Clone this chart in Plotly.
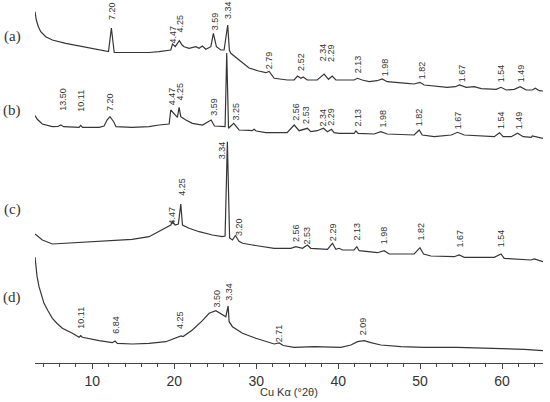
import plotly.graph_objects as go

# ---------------- data (2theta in degrees, intensity in arbitrary stacked units) -------------
X_A = [3.00, 3.16, 3.41, 3.70, 4.31, 5.12, 6.75, 8.78, 10.82, 11.97, 12.32, 12.67, 14.48, 16.92,
       18.14, 19.57, 19.78, 20.12, 20.62, 20.95, 21.2, 21.81, 22.63, 23.03, 23.43, 23.85, 24.46,
       24.77, 25.14, 25.68, 26.08, 26.52, 26.72, 26.9, 27.91, 29.13, 30.3, 31.17, 31.58, 31.9,
       32.19, 33.8, 34.63, 35.03, 35.45, 35.73, 36.22, 37.44, 38.29, 38.82, 39.27, 39.72, 41.95,
       42.36, 42.93, 43.78, 44.76, 45.37, 45.98, 48.42, 49.28, 49.98, 50.5, 53.31, 54.3, 54.81,
       55.63, 56.6, 57.46, 59.29, 59.87, 60.51, 61.49, 62.22, 62.96, 63.69, 64.06, 64.55, 65.0]
Y_A = [351.3, 343, 336.3, 331.3, 326.3, 323, 319.7, 316.3, 313, 311.5, 335, 310.5, 310.5, 310.5,
       311.3, 313, 319, 316.5, 322.3, 318, 316.3, 314.7, 316.3, 314.7, 317, 313.7, 316.3,
       329.7, 316.3, 313, 313, 338, 313, 309.7, 303, 295, 292, 290.3, 291.5, 287.5,
       284.7, 283, 283, 287, 284.7, 286, 283, 283, 289, 283.7, 287, 283, 283,
       284.7, 283, 281.3, 282.3, 284, 281.3, 279.7, 279, 280.7, 278, 275.7, 276.3, 278,
       275.7, 276.3, 274.3, 273.7, 275.7, 273, 273.7, 276.3, 273, 273, 274.7, 272.3, 272]

X_B = [3.0, 3.28, 3.89, 5.12, 5.8, 6.14, 6.5, 8.38, 8.58, 8.8, 10.82, 11.43, 11.79, 12.15, 12.6,
       12.89, 14.85, 16.92, 18.14, 19.37, 19.57, 19.98, 20.38, 20.59, 20.79, 21.41, 22.21, 23.43,
       24.5, 24.9, 25.96, 26.2, 26.4, 26.62, 27.25, 27.6, 27.91, 29.13, 29.5, 29.74, 30.0, 31.17,
       32.19, 33.77, 34.63, 35.24, 36.25, 36.66, 37.44, 38.2, 38.7, 39.18, 39.51, 40.12, 41.95,
       42.16, 42.44, 44.39, 45.21, 46.0, 49.28, 49.89, 50.26, 51.72, 53.8, 54.57, 55.39, 59.05,
       59.7, 60.14, 61.12, 61.89, 62.59, 63.57, 63.69, 65.0]
Y_B = [247.5, 243.7, 239, 236.3, 236.5, 238, 236.3, 235.7, 237.7, 235.7, 235.7, 237, 243, 246.3, 241.3,
       236.3, 235.7, 236.3, 238, 239, 253, 249.7, 245.7, 255.7, 246.3, 243, 239.7, 238,
       243, 237, 236.3, 236.5, 310, 234.7, 239.7, 235.7, 233, 232.7, 232.3, 233.7, 232, 230.3,
       230.3, 230.3, 238, 232.3, 234.7, 231.3, 232.3, 234.7, 231.3, 233.7, 230.3, 229.7, 229.7,
       232, 229.7, 229, 231.3, 229, 228, 233, 228, 226.3, 228, 230.7, 228, 226.3,
       230.3, 226.3, 226.3, 229.7, 226.3, 225.7, 227, 224.7]

X_C = [3.0, 3.9, 5.12, 6.75, 10.82, 14.85, 16.92, 18.96, 19.57, 19.77, 20.1, 20.5, 20.79, 21.0,
       21.81, 23.03, 24.65, 25.87, 26.2, 26.48, 26.75, 27.1, 27.45, 27.9, 28.34, 29.54, 31.17,
       32.19, 34.22, 34.83, 35.64, 36.25, 36.66, 38.69, 39.3, 39.72, 40.12, 40.53, 41.95, 42.28,
       42.56, 44.8, 45.61, 46.23, 49.28, 49.98, 50.42, 51.32, 54.16, 54.77, 55.39, 59.05, 59.87,
       60.27, 63.53, 63.93, 65.0]
Y_C = [129, 123, 119, 119.7, 121.3, 123.7, 126.3, 134.7, 138, 141.3, 138, 139, 159, 138,
       134.7, 131.3, 128, 126.3, 127, 221.3, 125, 123, 127.5, 121.7, 119.7, 118, 115.7,
       114.7, 114.7, 116.3, 114.7, 118, 114.7, 113.7, 119.7, 113.7, 114.7, 113, 113, 116.3,
       112.3, 110.3, 112.3, 109, 109, 115.3, 109, 107, 106.3, 108, 105.7, 105.7, 109,
       104.7, 103, 104, 101.3]

X_D = [3.0, 3.09, 3.25, 3.49, 3.8, 4.10, 4.6, 5.12, 5.7, 6.34, 7.56, 8.38, 8.58, 8.78, 10.82,
       12.44, 12.77, 13.05, 14.88, 16.92, 18.96, 20.59, 20.83, 21.07, 22.21, 23.43, 24.25, 25.07,
       25.68, 26.29, 26.57, 26.69, 27.1, 28.32, 29.95, 32.19, 32.8, 33.3, 34.63, 37.07, 40.33,
       41.55, 42.36, 43.17, 43.99, 45.21, 47.66, 50.5, 54.57, 58.65, 62.71, 65.0]
Y_D = [106, 96.3, 86.6, 76.3, 68.7, 59.7, 52, 44.7, 39.5, 34.7, 29.7, 25.7, 27.3, 25.7, 22.3,
       20.3, 22, 19.7, 19, 19.7, 21.3, 25.7, 27, 26.5, 33, 42.3, 49.7, 52.3,
       49.7, 46.3, 57, 41.3, 36.3, 29.7, 24.7, 19, 20, 17.5, 15.7, 16.3, 15.7,
       18, 21.3, 22.3, 20.3, 18, 16.3, 15.7, 15.7, 14.7, 13.7, 12.3]

# d-spacing labels (Å) for each pattern
LAB_A = ["7.20", "4.47", "4.25", "3.59", "3.34", "2.79", "2.52", "2.34", "2.29", "2.13",
         "1.98", "1.82", "1.67", "1.54", "1.49"]
LAB_B = ["13.50", "10.11", "7.20", "4.47", "4.25", "3.59", "3.25", "2.56", "2.53", "2.34",
         "2.29", "2.13", "1.98", "1.82", "1.67", "1.54", "1.49"]
LAB_C = ["4.47", "4.25", "3.34", "3.20", "2.56", "2.53", "2.29", "2.13", "1.98", "1.82",
         "1.67", "1.54"]
LAB_D = ["10.11", "6.84", "4.25", "3.50", "3.34", "2.71", "2.09"]
PANELS = ["(a)", "(b)", "(c)", "(d)"]

# label placement (2theta of label, height of label foot)
POS_A_X = [12.4, 19.72, 20.72, 24.92, 26.57, 31.58, 35.45, 38.17, 39.14, 42.44, 45.74, 50.26, 55.14, 59.9, 62.34]
POS_A_Y = [342, 318.5, 329.7, 331.3, 343, 293, 291, 301, 300, 289, 286, 283, 280, 280, 280]
POS_B_X = [6.34, 8.58, 12.16, 19.67, 20.68, 24.86, 27.51, 34.83, 36.06, 38.2, 39.1, 42.36, 45.53, 49.89, 54.65, 59.87, 62.1]
POS_B_Y = [251, 250, 251, 256.3, 261.3, 246.3, 241.3, 241, 238, 236, 236, 235, 235, 236, 233, 233, 233]
POS_C_X = [19.77, 20.92, 25.84, 27.91, 34.83, 36.25, 39.3, 42.28, 45.62, 50.1, 54.9, 59.87]
POS_C_Y = [138, 166, 203, 126, 119.7, 118, 121.3, 121.3, 118, 121.3, 114.7, 114.7]
POS_D_X = [8.58, 12.86, 20.71, 25.26, 26.69, 32.8, 42.97]
POS_D_Y = [33, 28, 33, 55, 61.3, 20, 26.3]
PANEL_Y = [327, 253, 154, 65.5]

LINE = "#363636"
TXT = "#333333"

fig = go.Figure()
for xs, ys in [(X_A, Y_A), (X_B, Y_B), (X_C, Y_C), (X_D, Y_D)]:
    fig.add_trace(go.Scatter(x=xs, y=ys, mode="lines",
                             line=dict(color=LINE, width=1.2), showlegend=False,
                             hoverinfo="skip"))

ann = []
for labs, px, py in [(LAB_A, POS_A_X, POS_A_Y), (LAB_B, POS_B_X, POS_B_Y),
                     (LAB_C, POS_C_X, POS_C_Y), (LAB_D, POS_D_X, POS_D_Y)]:
    for t, x, y in zip(labs, px, py):
        ann.append(dict(x=x, y=y, xref="x", yref="y", text=t, showarrow=False,
                        textangle=-90, xanchor="center", yanchor="bottom", borderpad=0,
                        font=dict(family="Liberation Sans, Arial", size=9, color=TXT)))
for t, y in zip(PANELS, PANEL_Y):
    ann.append(dict(x=-0.045, y=y, xref="paper", yref="y", text=t, showarrow=False,
                    xanchor="center", yanchor="middle",
                    font=dict(family="Liberation Serif, Times New Roman", size=15, color=TXT)))
ann.append(dict(x=0.5, y=0, xref="paper", yref="paper", yshift=-29, text="Cu Kα (°2θ)",
                showarrow=False, xanchor="center", yanchor="middle",
                font=dict(family="Liberation Sans, Arial", size=11, color=TXT)))

fig.update_layout(
    width=550, height=402,
    margin=dict(l=35, r=7, t=0, b=39),
    paper_bgcolor="white", plot_bgcolor="white",
    annotations=ann,
    xaxis=dict(range=[3, 65], showgrid=False, zeroline=False, showline=True,
               linecolor="#444", linewidth=1, ticks="outside", ticklen=5, tickcolor="#444",
               tickwidth=1, tickmode="array", tickvals=[10, 20, 30, 40, 50, 60],
               tickfont=dict(family="Liberation Sans, Arial", size=14, color=TXT),
               minor=dict(dtick=2, tick0=0, ticks="outside", ticklen=3, tickcolor="#444")),
    yaxis=dict(range=[0, 363], visible=False),
)
fig.write_html("out.html", config={"displayModeBar": False},
               post_script="document.body.style.margin='0px';")
